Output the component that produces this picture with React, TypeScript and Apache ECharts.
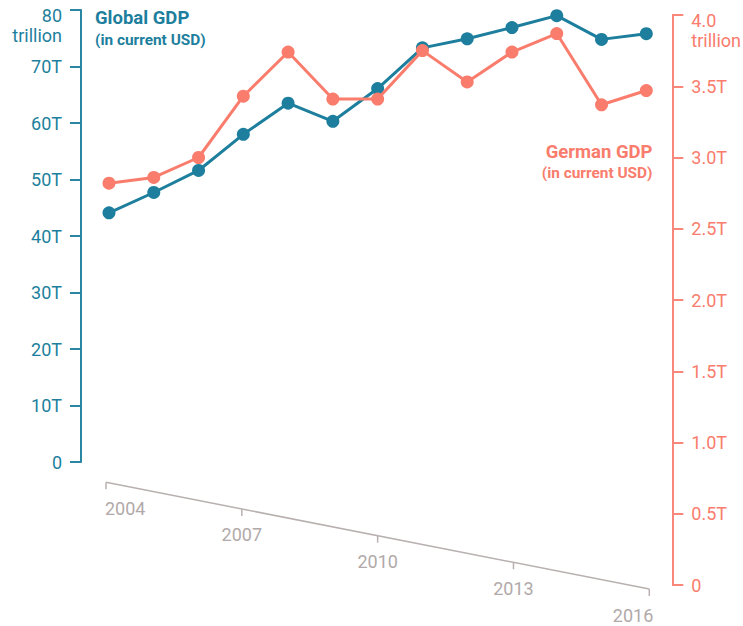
import React, { useEffect, useRef } from "react";
import * as echarts from "echarts";

const years = [2004, 2005, 2006, 2007, 2008, 2009, 2010, 2011, 2012, 2013, 2014, 2015, 2016];
const globalGdp = [44.1, 47.7, 51.6, 58.0, 63.5, 60.3, 66.1, 73.3, 74.9, 76.9, 79.0, 74.8, 75.8];
const germanGdp = [2.82, 2.86, 3.0, 3.43, 3.74, 3.41, 3.41, 3.75, 3.53, 3.74, 3.87, 3.37, 3.47];
const xTickYears = [2004, 2007, 2010, 2013, 2016];
const leftTickLabels = ["0", "10T", "20T", "30T", "40T", "50T", "60T", "70T", "80"];
const rightTickLabels = ["0", "0.5T", "1.0T", "1.5T", "2.0T", "2.5T", "3.0T", "3.5T", "4.0"];
const unitLabel = "trillion";
const globalTitle = "Global GDP";
const germanTitle = "German GDP";
const subTitle = "(in current USD)";

const BLUE = "#1d7f9d";
const BLUE_AXIS = "#2a86a3";
const ORANGE = "#f97c6c";
const ORANGE_AXIS = "#f8877a";
const GRAY_LINE = "#b9b0b0";
const GRAY_TEXT = "#b1a9a9";
const FONT = "Roboto";
const TICK_FS = 18;

export default function App() {
  const ref = useRef<HTMLDivElement>(null);
  useEffect(() => {
    if (!ref.current) return;
    const chart = echarts.init(ref.current, null, { renderer: "svg" });

    const AXIS_Y_START = 482.3;
    const AXIS_Y_END = 589;
    const AXIS_PAD = 3;
    const TICK_LEN = 7;
    const LABEL_GAP = 26;

    const option: any = {
      animation: false,
      grid: [
        { left: 109, right: 96.7, top: 10, height: 452, containLabel: false, outerBoundsMode: "none" },
        { left: 109, right: 96.7, top: 15, height: 570, containLabel: false, outerBoundsMode: "none" },
      ],
      xAxis: [
        { type: "value", gridIndex: 0, min: 2004, max: 2016, show: false },
        { type: "value", gridIndex: 1, min: 2004, max: 2016, show: false },
      ],
      yAxis: [
        {
          type: "value",
          gridIndex: 0,
          position: "left",
          offset: 28,
          min: 0,
          max: 80,
          interval: 10,
          splitLine: { show: false },
          axisLine: { show: true, lineStyle: { color: BLUE_AXIS, width: 2 } },
          axisTick: { show: true, length: 11, lineStyle: { color: BLUE_AXIS, width: 2 } },
          axisLabel: {
            margin: 19,
            color: BLUE,
            fontSize: TICK_FS,
            fontFamily: FONT,
            formatter: (v: number) => {
              const i = Math.round(v / 10);
              if (i === leftTickLabels.length - 1) {
                return `{top|${leftTickLabels[i]}}\n{unit|${unitLabel}}`;
              }
              return leftTickLabels[i];
            },
            rich: {
              top: { color: BLUE, fontSize: TICK_FS, fontFamily: FONT, padding: [32, 0, 0, 0] },
              unit: { color: BLUE, fontSize: TICK_FS, fontFamily: FONT, lineHeight: 22 },
            },
          },
        },
        {
          type: "value",
          gridIndex: 1,
          position: "right",
          offset: 26,
          min: 0,
          max: 4,
          interval: 0.5,
          splitLine: { show: false },
          axisLine: { show: true, lineStyle: { color: ORANGE_AXIS, width: 2 } },
          axisTick: { show: true, length: 11, lineStyle: { color: ORANGE_AXIS, width: 2 } },
          axisLabel: {
            margin: 19,
            color: ORANGE,
            fontSize: TICK_FS,
            fontFamily: FONT,
            formatter: (v: number) => {
              const i = Math.round(v / 0.5);
              if (i === rightTickLabels.length - 1) {
                return `{top|${rightTickLabels[i]}}\n{unit|${unitLabel}}`;
              }
              return rightTickLabels[i];
            },
            rich: {
              top: { color: ORANGE, fontSize: TICK_FS, fontFamily: FONT, padding: [32, 0, 0, 0] },
              unit: { color: ORANGE, fontSize: TICK_FS, fontFamily: FONT, lineHeight: 22 },
            },
          },
        },
      ],
      graphic: [
        {
          type: "text",
          x: 95,
          y: 18,
          style: {
            text: globalTitle,
            fill: BLUE,
            fontSize: 18.5,
            fontWeight: "bold",
            fontFamily: FONT,
            align: "left",
            verticalAlign: "middle",
          },
        },
        {
          type: "text",
          x: 95,
          y: 39.5,
          style: {
            text: subTitle,
            fill: BLUE,
            fontSize: 15.4,
            fontWeight: "bold",
            fontFamily: FONT,
            align: "left",
            verticalAlign: "middle",
          },
        },
        {
          type: "text",
          x: 652.5,
          y: 151.5,
          style: {
            text: germanTitle,
            fill: ORANGE,
            fontSize: 18.5,
            fontWeight: "bold",
            fontFamily: FONT,
            align: "right",
            verticalAlign: "middle",
          },
        },
        {
          type: "text",
          x: 652.5,
          y: 172.5,
          style: {
            text: subTitle,
            fill: ORANGE,
            fontSize: 15.4,
            fontWeight: "bold",
            fontFamily: FONT,
            align: "right",
            verticalAlign: "middle",
          },
        },
      ],
      series: [
        {
          type: "custom",
          xAxisIndex: 0,
          yAxisIndex: 0,
          clip: false,
          silent: true,
          z: 1,
          encode: { x: 0, y: 1 },
          data: xTickYears.map((y) => [y, 0]),
          renderItem: (params: any, api: any) => {
            const first = xTickYears[0];
            const last = xTickYears[xTickYears.length - 1];
            const xl = api.coord([first, 0])[0] - AXIS_PAD;
            const xr = api.coord([last, 0])[0] + AXIS_PAD;
            const year = api.value(0);
            const x = xl + ((year - first) / (last - first)) * (xr - xl);
            const yAt = (px: number) => AXIS_Y_START + ((px - xl) / (xr - xl)) * (AXIS_Y_END - AXIS_Y_START);
            const y = yAt(x);
            const isFirst = params.dataIndex === 0;
            const isLast = params.dataIndex === xTickYears.length - 1;
            const children: any[] = [];
            if (isFirst) {
              children.push({
                type: "line",
                shape: { x1: xl, y1: AXIS_Y_START, x2: xr, y2: AXIS_Y_END },
                style: { stroke: GRAY_LINE, lineWidth: 1.5 },
              });
            }
            children.push({
              type: "line",
              shape: { x1: x, y1: y, x2: x, y2: y + TICK_LEN },
              style: { stroke: GRAY_LINE, lineWidth: 1.5 },
            });
            children.push({
              type: "text",
              x: isFirst ? x - 1 : isLast ? x + 4 : x,
              y: y + LABEL_GAP,
              style: {
                text: String(year),
                fill: GRAY_TEXT,
                fontSize: TICK_FS,
                fontFamily: FONT,
                align: isFirst ? "left" : isLast ? "right" : "center",
                verticalAlign: "middle",
              },
            });
            return { type: "group", children };
          },
        },
        {
          name: globalTitle,
          type: "line",
          xAxisIndex: 0,
          yAxisIndex: 0,
          data: years.map((y, i) => [y, globalGdp[i]]),
          symbol: "circle",
          symbolSize: 13,
          lineStyle: { color: BLUE, width: 3 },
          itemStyle: { color: BLUE },
          z: 2,
        },
        {
          name: germanTitle,
          type: "line",
          xAxisIndex: 1,
          yAxisIndex: 1,
          data: years.map((y, i) => [y, germanGdp[i]]),
          symbol: "circle",
          symbolSize: 13,
          lineStyle: { color: ORANGE, width: 3 },
          itemStyle: { color: ORANGE },
          z: 3,
        },
      ],
    };
    chart.setOption(option);
    return () => chart.dispose();
  }, []);
  return (
    <div
      ref={ref}
      style={{ position: "absolute", left: 0, top: 0, width: 743, height: 626, background: "#fff" }}
    />
  );
}
